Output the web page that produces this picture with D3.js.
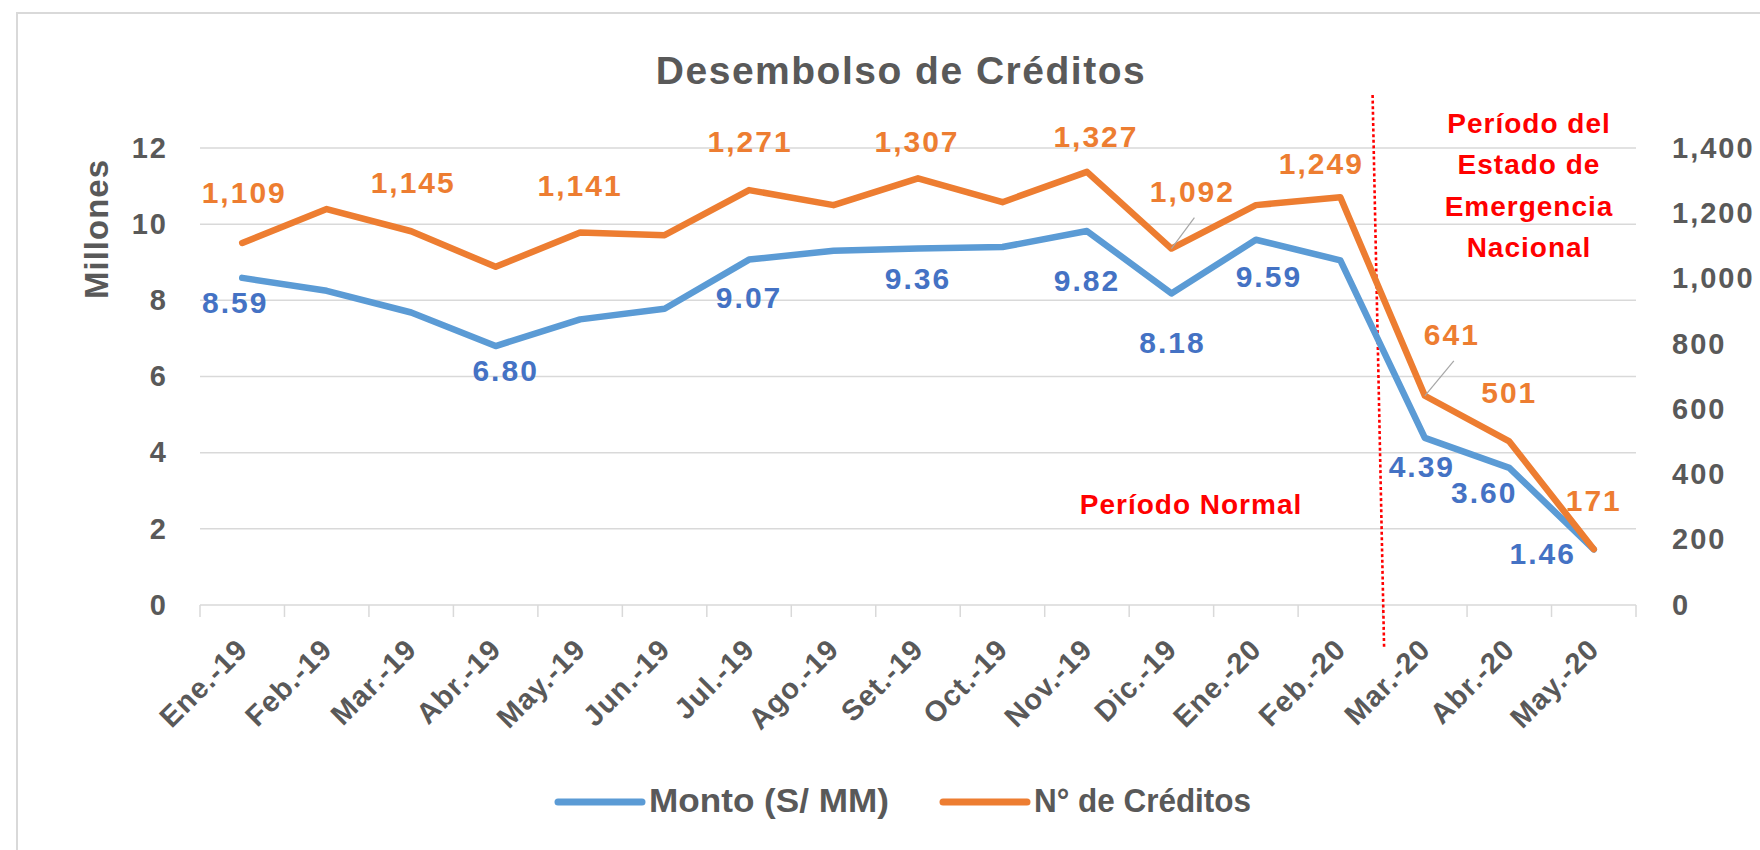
<!DOCTYPE html>
<html>
<head>
<meta charset="utf-8">
<script src="https://cdn.jsdelivr.net/npm/d3@7"></script>
<style>
  body { margin: 0; background: #fff; }
  svg text { font-family: "Liberation Sans", Arial, sans-serif; font-weight: bold; }
</style>
</head>
<body>
<script>
var width = 1760,
    height = 850;

// data
var months = ["Ene.-19", "Feb.-19", "Mar.-19", "Abr.-19", "May.-19", "Jun.-19", "Jul.-19", "Ago.-19",
              "Set.-19", "Oct.-19", "Nov.-19", "Dic.-19", "Ene.-20", "Feb.-20", "Mar.-20", "Abr.-20", "May.-20"];
var monto = [8.59, 8.25, 7.68, 6.80, 7.50, 7.78, 9.07, 9.30, 9.36, 9.40, 9.82, 8.18, 9.59, 9.05, 4.39, 3.60, 1.46];
var creditos = [1109, 1213, 1145, 1036, 1141, 1133, 1271, 1225, 1307, 1234, 1327, 1092, 1225, 1249, 641, 501, 171];
var montoTicks = [0, 2, 4, 6, 8, 10, 12];
var creditosTicks = [0, 200, 400, 600, 800, 1000, 1200, 1400];
var seriesNames = ["Monto (S/ MM)", "N° de Créditos"];
var titleText = "Desembolso de Créditos";
var yTitle = "Millones";
var normalText = "Período Normal";
var emergenciaText = ["Período del", "Estado de", "Emergencia", "Nacional"];

// which points carry a data label, and where the label sits relative to its point
var montoLabelIdx = [0, 3, 6, 8, 10, 11, 12, 14, 15, 16];
var montoLabelOff = [[-7, 35], [10, 35], [0, 48], [0, 40], [0, 60], [1, 60], [13, 47], [-3, 39], [-25, 35], [-51, 15]];
var creditosLabelIdx = [0, 2, 4, 6, 8, 10, 11, 13, 14, 15, 16];
var creditosLabelOff = [[2, -40], [2, -38], [0, -37], [1, -38], [-1, -26], [9, -25], [21, -47], [-19, -23], [27, -51], [0, -38], [0, -38]];
var leaderIdx = [11, 14];

var grey = "#595959",
    blueLine = "#5B9BD5",
    blueText = "#4472C4",
    orange = "#ED7D31",
    red = "#FF0000",
    gridColor = "#d9d9d9";

var svg = d3.select("body").append("svg")
    .attr("width", width)
    .attr("height", height);

// outer chart frame
svg.append("rect")
    .attr("x", 17).attr("y", 13)
    .attr("width", 1800).attr("height", 900)
    .attr("fill", "none")
    .attr("stroke", gridColor)
    .attr("stroke-width", 2);

var plotLeft = 200, plotRight = 1636, plotTop = 148, plotBottom = 605;

var x = d3.scaleBand().domain(months).range([plotLeft, plotRight]).padding(0);
var yL = d3.scaleLinear().domain([0, 12]).range([plotBottom, plotTop]);
var yR = d3.scaleLinear().domain([0, 1400]).range([plotBottom, plotTop]);
var cx = function(i) { return x(months[i]) + x.bandwidth() / 2; };

// gridlines
svg.append("g").selectAll("line")
    .data(montoTicks)
    .enter().append("line")
    .attr("x1", plotLeft).attr("x2", plotRight)
    .attr("y1", function(d) { return yL(d); })
    .attr("y2", function(d) { return yL(d); })
    .attr("stroke", gridColor)
    .attr("stroke-width", 1.5);

// category tick marks on band edges
var edges = months.map(function(m) { return x(m); }).concat([plotRight]);
svg.append("g").selectAll("line")
    .data(edges)
    .enter().append("line")
    .attr("x1", function(d) { return d; }).attr("x2", function(d) { return d; })
    .attr("y1", plotBottom).attr("y2", plotBottom + 12)
    .attr("stroke", gridColor)
    .attr("stroke-width", 1.5);

// left axis
var gL = svg.append("g")
    .attr("transform", "translate(" + plotLeft + ",0)")
    .call(d3.axisLeft(yL).tickValues(montoTicks).tickSize(0).tickPadding(32));
gL.select(".domain").remove();
gL.selectAll("text")
    .attr("font-size", 29).attr("fill", grey).attr("letter-spacing", 2);

// right axis
var gR = svg.append("g")
    .attr("transform", "translate(" + plotRight + ",0)")
    .call(d3.axisRight(yR).tickValues(creditosTicks).tickSize(0).tickPadding(36).tickFormat(d3.format(",")));
gR.select(".domain").remove();
gR.selectAll("text")
    .attr("font-size", 29).attr("fill", grey).attr("letter-spacing", 2);

// bottom axis, rotated labels
var gX = svg.append("g")
    .attr("transform", "translate(0," + plotBottom + ")")
    .call(d3.axisBottom(x).tickSize(0));
gX.select(".domain").remove();
gX.selectAll("text")
    .attr("font-size", 29).attr("fill", grey).attr("letter-spacing", 1)
    .attr("y", 0).attr("x", 0).attr("dy", "0.35em")
    .attr("text-anchor", "end")
    .attr("transform", "translate(0,39) rotate(-45)");

svg.selectAll(".tick text").attr("font-family", null);
svg.selectAll("g").attr("font-family", null);

// y axis title
svg.append("text")
    .attr("transform", "translate(108,229) rotate(-90)")
    .attr("text-anchor", "middle")
    .attr("font-size", 33).attr("letter-spacing", 1)
    .attr("fill", grey)
    .text(yTitle);

// title
svg.append("text")
    .attr("x", 901).attr("y", 84)
    .attr("text-anchor", "middle")
    .attr("font-size", 39).attr("letter-spacing", 1.5)
    .attr("fill", grey)
    .text(titleText);

// dotted separator between Feb.-20 and Mar.-20
var sepX = x("Mar.-20");
svg.append("line")
    .attr("x1", sepX - 10).attr("y1", 95)
    .attr("x2", sepX + 1.5).attr("y2", 647)
    .attr("stroke", red)
    .attr("stroke-width", 2.6)
    .attr("stroke-dasharray", "3,2.6");

// lines
var lineL = d3.line().x(function(d, i) { return cx(i); }).y(function(d) { return yL(d); });
var lineR = d3.line().x(function(d, i) { return cx(i); }).y(function(d) { return yR(d); });

svg.append("path")
    .datum(monto)
    .attr("d", lineL)
    .attr("fill", "none")
    .attr("stroke", blueLine)
    .attr("stroke-width", 6.5)
    .attr("stroke-linejoin", "round")
    .attr("stroke-linecap", "round");

svg.append("path")
    .datum(creditos)
    .attr("d", lineR)
    .attr("fill", "none")
    .attr("stroke", orange)
    .attr("stroke-width", 6.5)
    .attr("stroke-linejoin", "round")
    .attr("stroke-linecap", "round");

// leader lines for moved labels
svg.append("g").selectAll("line")
    .data(leaderIdx)
    .enter().append("line")
    .attr("x1", function(i) { var k = creditosLabelIdx.indexOf(i); return cx(i) + creditosLabelOff[k][0] + 2; })
    .attr("y1", function(i) { var k = creditosLabelIdx.indexOf(i); return yR(creditos[i]) + creditosLabelOff[k][1] + 16; })
    .attr("x2", function(i) { return cx(i); })
    .attr("y2", function(i) { return yR(creditos[i]); })
    .attr("stroke", "#a6a6a6")
    .attr("stroke-width", 1.2);

// data labels
svg.append("g").selectAll("text")
    .data(montoLabelIdx)
    .enter().append("text")
    .attr("x", function(i, k) { return cx(i) + montoLabelOff[k][0]; })
    .attr("y", function(i, k) { return yL(monto[i]) + montoLabelOff[k][1]; })
    .attr("text-anchor", "middle")
    .attr("font-size", 30).attr("letter-spacing", 2)
    .attr("fill", blueText)
    .text(function(i) { return d3.format(".2f")(monto[i]); });

svg.append("g").selectAll("text")
    .data(creditosLabelIdx)
    .enter().append("text")
    .attr("x", function(i, k) { return cx(i) + creditosLabelOff[k][0]; })
    .attr("y", function(i, k) { return yR(creditos[i]) + creditosLabelOff[k][1]; })
    .attr("text-anchor", "middle")
    .attr("font-size", 30).attr("letter-spacing", 2)
    .attr("fill", orange)
    .text(function(i) { return d3.format(",")(creditos[i]); });

// period annotations
svg.append("text")
    .attr("x", 1191).attr("y", 514)
    .attr("text-anchor", "middle")
    .attr("font-size", 28).attr("letter-spacing", 1)
    .attr("fill", red)
    .text(normalText);

svg.append("g").selectAll("text")
    .data(emergenciaText)
    .enter().append("text")
    .attr("x", 1529)
    .attr("y", function(d, i) { return 133 + i * 41.3; })
    .attr("text-anchor", "middle")
    .attr("font-size", 28).attr("letter-spacing", 1)
    .attr("fill", red)
    .text(function(d) { return d; });

// legend
var legendX = [558, 943];
var legendTextWidth = [240, 217];
var legendColors = [blueLine, orange];
var legend = svg.append("g").selectAll("g")
    .data(seriesNames)
    .enter().append("g")
    .attr("transform", function(d, i) { return "translate(" + legendX[i] + ",802)"; });

legend.append("line")
    .attr("x1", 0).attr("x2", 84)
    .attr("stroke", function(d, i) { return legendColors[i]; })
    .attr("stroke-width", 7)
    .attr("stroke-linecap", "round");

legend.append("text")
    .attr("x", 91).attr("y", 10)
    .attr("font-size", 33)
    .attr("textLength", function(d, i) { return legendTextWidth[i]; })
    .attr("lengthAdjust", "spacingAndGlyphs")
    .attr("fill", grey)
    .text(function(d) { return d; });
</script>
</body>
</html>
